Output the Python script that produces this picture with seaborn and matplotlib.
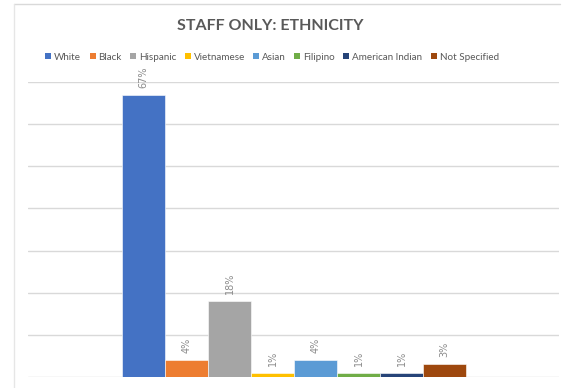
import matplotlib
matplotlib.use("Agg")
import matplotlib.pyplot as plt
from matplotlib.lines import Line2D
from matplotlib.patches import Patch
import seaborn as sns
import pandas as pd

# Staff ethnicity shares (percent)
categories = ["White", "Black", "Hispanic", "Vietnamese", "Asian",
              "Filipino", "American Indian", "Not Specified"]
values = [67, 4, 18, 1, 4, 1, 1, 3]
colors = ["#4472C4", "#ED7D31", "#A5A5A5", "#FFC000",
          "#5B9BD5", "#70AD47", "#264478", "#9E480E"]
title = "STAFF ONLY: ETHNICITY"

df = pd.DataFrame({"group": categories, "pct": values})

sns.set_theme(style="white")
plt.rcParams["font.family"] = ["Lato", "DejaVu Sans"]

W, H = 569, 388
fig = plt.figure(figsize=(W / 100, H / 100), dpi=100)
fig.patch.set_facecolor("white")

# plot area in pixel coordinates
x0, x1, ytop, ybot = 28, 559, 82, 377
ax = fig.add_axes([x0 / W, 1 - ybot / H, (x1 - x0) / W, (ybot - ytop) / H])

sns.barplot(data=df, x="group", y="pct", hue="group", palette=colors,
            order=categories, hue_order=categories, width=1.0, dodge=False,
            saturation=1, legend=False, ax=ax, edgecolor="white",
            linewidth=0.4)

ax.set_xlim(-2.686, 9.663)
ax.set_ylim(0, 70)
ax.set_yticks(range(0, 71, 10))
ax.yaxis.grid(True, color="#d9d9d9", linewidth=1.0)
ax.set_axisbelow(True)
ax.set_xticks([])
ax.set_yticklabels([])
ax.tick_params(left=False, bottom=False)
ax.set_xlabel("")
ax.set_ylabel("")
for s in ax.spines.values():
    s.set_visible(False)

# rotated value labels above bars
for i, v in enumerate(values):
    ax.annotate(f"{v}%", xy=(i, v), xytext=(0, 5), textcoords="offset points",
                rotation=90, ha="center", va="bottom", fontsize=7,
                color="#8c8c8c", family="DejaVu Sans")

# title
fig.text(270 / W, 1 - 26.5 / H, title, ha="center", va="center",
         fontsize=11.5, fontweight="bold", color="#595959")

# legend
handles = [Patch(facecolor=c, edgecolor="none") for c in colors]
fig.legend(handles, categories, loc="center", bbox_to_anchor=(272 / W, 1 - 57 / H),
           ncol=len(categories), frameon=False, fontsize=7.1,
           handlelength=0.6, handleheight=0.6, handletextpad=0.3,
           columnspacing=0.85, labelcolor="#595959")

# outer chart frame
fig.add_artist(Line2D([14 / W, 560 / W], [1 - 4 / H, 1 - 4 / H],
                      transform=fig.transFigure, color="#d9d9d9", lw=1))
fig.add_artist(Line2D([14 / W, 14 / W], [1 - 4 / H, 0],
                      transform=fig.transFigure, color="#e6e6e6", lw=1))

fig.savefig("out.png", dpi=100)
